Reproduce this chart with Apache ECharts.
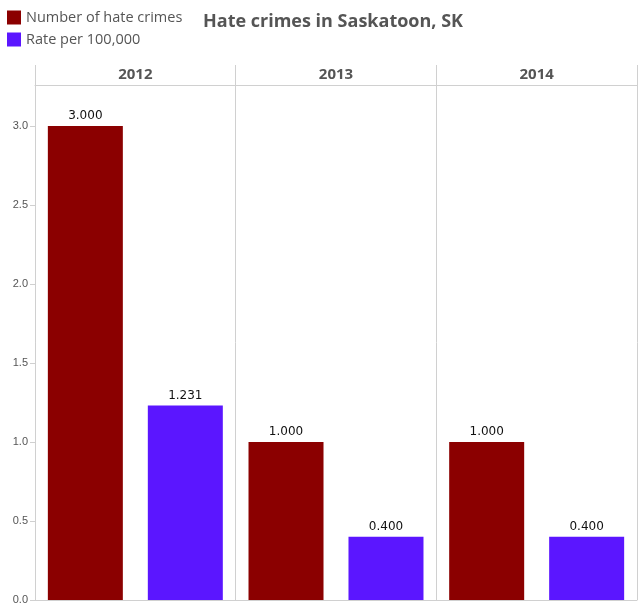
<!DOCTYPE html>
<html>
<head>
<meta charset="utf-8">
<script src="https://cdn.jsdelivr.net/npm/echarts@6/dist/echarts.min.js"></script>
<style>
html, body { margin: 0; padding: 0; background: #fff; }
#mychart { width: 644px; height: 607px; }
</style>
</head>
<body>
<div id="mychart"></div>
<script>
// data
var years = ['2012', '2013', '2014']
var hateCrimes = [3.000, 1.000, 1.000]
var ratePer100k = [1.231, 0.400, 0.400]
var yTicks = [0.0, 0.5, 1.0, 1.5, 2.0, 2.5, 3.0]

var myChart = echarts.init(document.getElementById('mychart'))

var valueLabel = {
    show: true,
    position: 'top',
    distance: 4,
    color: '#111',
    fontFamily: 'DejaVu Sans',
    fontSize: 12,
    formatter: function (p) {
        return p.value.toFixed(3)
    }
}

var option = {
    animation: false,
    backgroundColor: '#fff',
    title: {
        text: 'Hate crimes in Saskatoon, SK',
        left: 333,
        textAlign: 'center',
        top: 13,
        padding: 0,
        textStyle: {
            color: '#555',
            fontFamily: 'Open Sans',
            fontWeight: 'bold',
            fontSize: 18,
        },
    },
    legend: {
        orient: 'vertical',
        left: 7,
        top: 10,
        padding: 0,
        itemWidth: 14,
        itemHeight: 14,
        itemGap: 7,
        icon: 'rect',
        textStyle: {
            color: '#555',
            fontFamily: 'Open Sans',
            fontSize: 14.5,
        },
        data: ['Number of hate crimes', 'Rate per 100,000'],
    },
    grid: {
        left: 35,
        right: 7,
        top: 85,
        bottom: 7,
    },
    xAxis: [{
        type: 'category',
        position: 'top',
        data: years,
        axisLine: { show: true, onZero: false, lineStyle: { color: '#d0d0d0', width: 1 } },
        axisTick: { show: true, length: 20, lineStyle: { color: '#d0d0d0' } },
        axisLabel: {
            show: true,
            margin: 3,
            color: '#555',
            fontFamily: 'Open Sans',
            fontWeight: 'bold',
            fontSize: 15,
        },
        splitLine: { show: true, lineStyle: { color: '#d0d0d0', width: 1 } },
    }, {
        type: 'category',
        position: 'bottom',
        data: years,
        axisLine: { show: true, onZero: false, lineStyle: { color: '#d0d0d0', width: 1 } },
        axisTick: { show: false },
        axisLabel: { show: false },
    }],
    yAxis: {
        type: 'value',
        min: 0,
        max: 3.26,
        interval: 0.5,
        axisLine: { show: true, lineStyle: { color: '#d0d0d0', width: 1 } },
        axisTick: { show: true, length: 5, lineStyle: { color: '#d0d0d0' } },
        splitLine: { show: false },
        axisLabel: {
            margin: 7,
            color: '#555',
            fontFamily: 'Liberation Sans',
            fontSize: 11,
            showMaxLabel: false,
            formatter: function (v) {
                return yTicks.indexOf(v) >= 0 ? v.toFixed(1) : ''
            },
        },
    },
    series: [{
        name: 'Number of hate crimes',
        type: 'bar',
        data: hateCrimes,
        barWidth: 75,
        barGap: '33.3%',
        itemStyle: { color: '#8b0000' },
        label: valueLabel,
    }, {
        name: 'Rate per 100,000',
        type: 'bar',
        data: ratePer100k,
        barWidth: 75,
        barGap: '33.3%',
        itemStyle: { color: '#5b16ff' },
        label: valueLabel,
    }],
}

myChart.setOption(option)
</script>
</body>
</html>
